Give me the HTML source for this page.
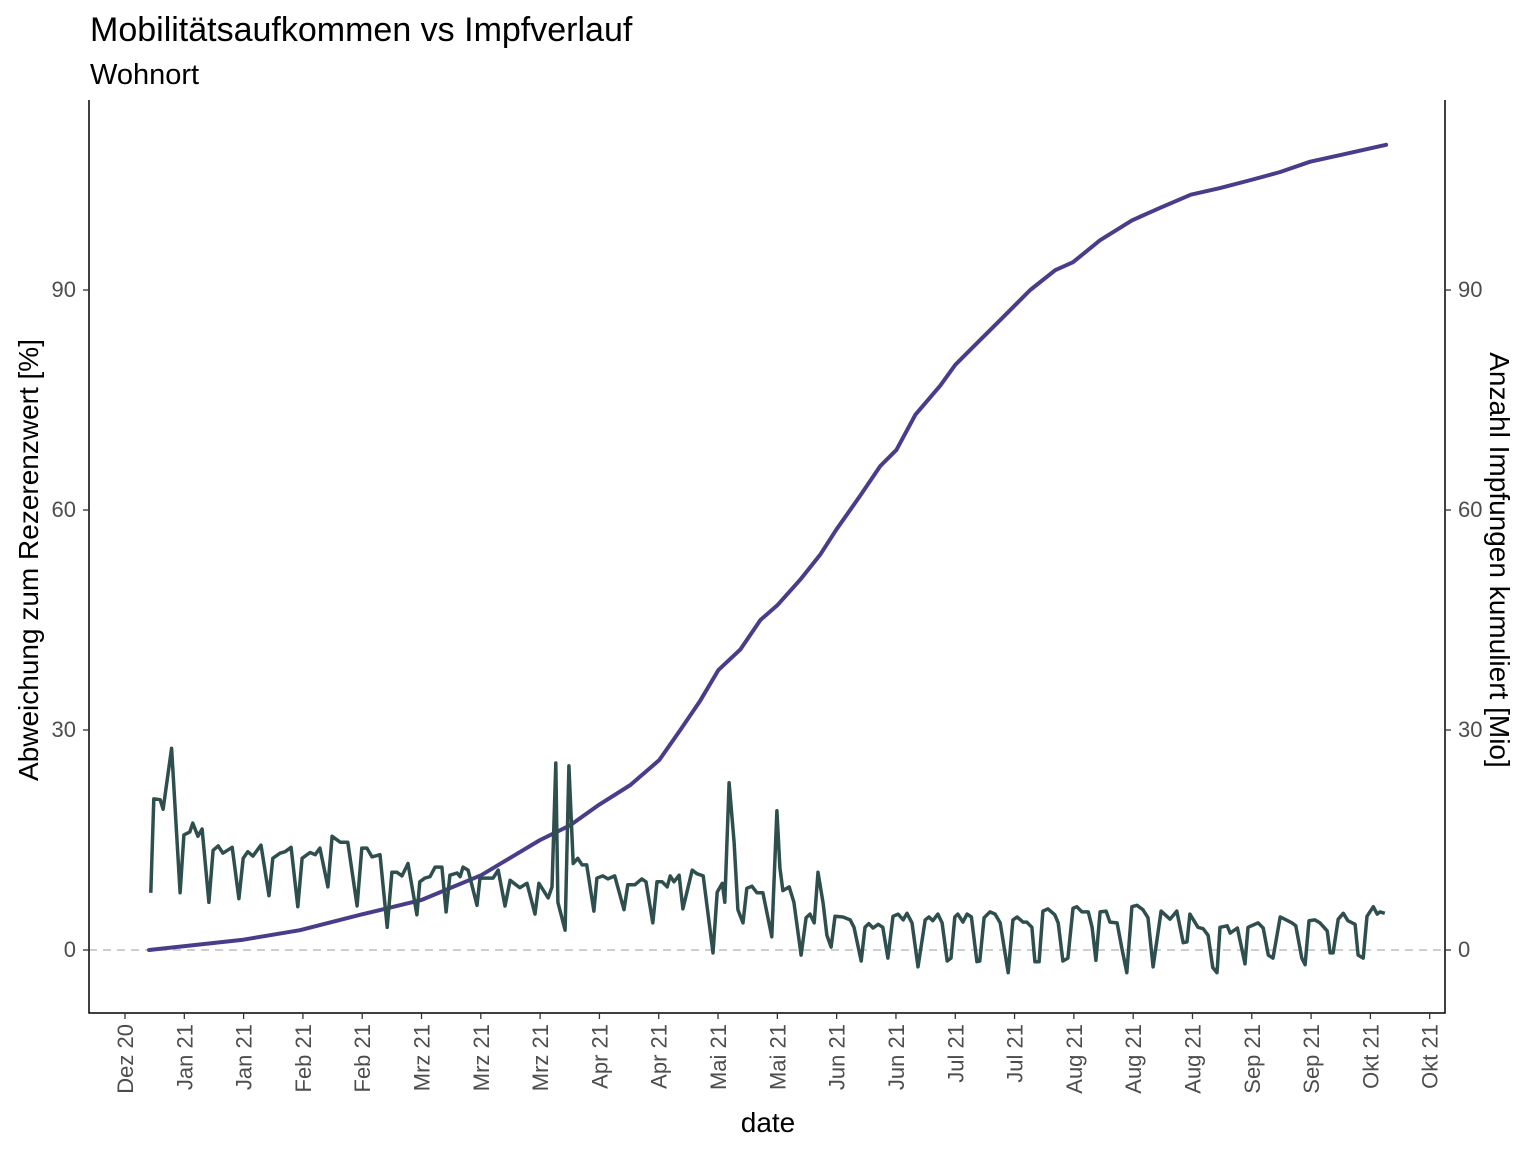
<!DOCTYPE html>
<html><head><meta charset="utf-8">
<style>
html,body{margin:0;padding:0;background:#fff;}
svg{display:block;font-family:"Liberation Sans",Arial,sans-serif;}
</style></head>
<body>
<svg id="chart" width="1536" height="1152" viewBox="0 0 1536 1152" xmlns="http://www.w3.org/2000/svg">
<text x="90" y="41" font-size="34" fill="#000">Mobilitätsaufkommen vs Impfverlauf</text>
<text x="90" y="84" font-size="29" fill="#000">Wohnort</text>
<g id="axes"></g>
<g id="marks"></g>
</svg>
<script>
// days since first x tick (Dez 20 tick)
const xTickLabels = ["Dez 20","Jan 21","Jan 21","Feb 21","Feb 21","Mrz 21","Mrz 21","Mrz 21","Apr 21","Apr 21","Mai 21","Mai 21","Jun 21","Jun 21","Jul 21","Jul 21","Aug 21","Aug 21","Aug 21","Sep 21","Sep 21","Okt 21","Okt 21"];
const xTickDays = [0,14,28,42,56,70,84,98,112,126,140,154,168,182,196,210,224,238,252,266,280,294,308];
const yTickValues = [0,30,60,90];
const mobDays = [6.1,6.8,8.3,9,11,13,13.9,15.3,16,17.2,18.2,19.8,20.8,22,23.1,25.3,26.9,27.9,29,30.2,32.1,34,34.9,36.6,37.8,39.2,40.8,41.8,43.7,44.9,46,47.9,48.9,50.8,52.6,54.8,55.9,57.1,58.3,60.2,61.9,63,64.2,65.4,66.8,68.9,69.6,70.8,72,73.2,74.8,75.8,76.7,78.4,79.1,79.8,81,83.1,83.8,85.5,86.9,88.1,89.7,90.9,93.2,94.9,96.8,97.7,99.9,100.8,101.7,102.2,103.9,104.8,105.8,106.9,107.9,109,110.7,111.4,112.8,114,115.6,117.8,118.7,120.4,122,123,124.6,125.6,126.8,128,128.7,129.6,130.8,131.7,133.9,135,136.5,138.8,139.8,141,141.6,142.6,143.8,144.7,145.9,146.8,148,149.2,150.6,152.7,153.9,154.6,155.3,156.8,157.9,159.6,160.8,161.7,162.7,163.6,164.8,165.7,166.7,167.6,169.5,171.2,172.1,173.8,174.7,175.6,176.6,177.8,178.9,180.1,181.3,182.5,183.7,184.6,185.8,187.2,188.9,189.8,190.7,191.9,192.9,194.1,195,195.9,196.6,197.8,198.8,199.8,201.1,201.8,202.8,204.2,205.4,206.6,208.5,209.6,210.6,212,212.9,214.1,214.8,215.8,216.7,217.9,219.5,220.3,221.4,222.6,223.8,224.7,225.9,227.4,228.3,229.2,230.2,231.6,232.5,234.2,235.4,236.5,237.7,238.9,240.3,241.5,242.7,244.6,246.7,248.3,249.8,250.7,251.4,253.3,254.5,255.7,256.8,257.8,258.5,260.2,260.9,262.6,264.4,265.1,266.3,267.5,268.7,269.9,271,272.7,273.8,275.5,276.4,277.8,278.6,279.5,280.9,282.1,283.8,284.5,285.2,286.4,287.6,288.7,290.4,291.1,292.3,293.2,294.7,295.6,296.3,297.4];
const mobValues = [7.8,20.6,20.5,19.2,27.5,7.8,15.7,16.1,17.3,15.5,16.5,6.5,13.6,14.2,13.2,14,7,12.5,13.4,12.8,14.3,7.4,12.5,13.2,13.4,14,5.9,12.5,13.3,13,13.9,8.6,15.5,14.7,14.7,6,13.9,13.9,12.7,13,3.1,10.6,10.6,10.1,11.8,4.8,9.3,9.8,10,11.3,11.3,5.2,10.2,10.5,10,11.3,10.9,6.1,9.8,9.8,9.8,10.9,6,9.5,8.5,9.1,4.9,9.1,7.1,8.6,25.5,6.5,2.7,25.1,11.8,12.5,11.6,11.6,5.3,9.8,10.1,9.7,10.1,5.5,8.9,8.9,9.7,9.3,3.7,9.3,9.3,8.6,10.1,9.3,10.2,5.6,10.9,10.4,10.1,-0.4,7.9,9.1,6.5,22.8,14.7,5.5,3.7,8.4,8.7,7.8,7.8,1.8,19,11.2,8.1,8.6,6.5,-0.7,4.4,4.9,3.7,10.6,6.4,2,0.4,4.6,4.5,4.1,3.1,-1.5,3.1,3.6,3,3.5,3.1,-1.1,4.6,4.9,4.1,5,3.7,-2.3,4.1,4.5,4,4.9,3.7,-1.5,-1.1,4.5,4.9,3.8,4.9,4.5,-1.6,-1.5,4.4,5.2,4.9,3.7,-3.1,4.1,4.5,3.8,3.8,3.1,-1.6,-1.6,5.3,5.6,4.8,3.7,-1.5,-1.1,5.7,5.9,5.2,5.2,3.1,-1.4,5.2,5.3,3.8,3.7,0,-3.1,5.9,6.1,5.5,4.4,-2.3,5.3,4.2,5.3,1,1.1,4.9,3.1,2.9,2,-2.4,-3.1,3.1,3.3,2.3,3,-1.9,3.1,3.4,3.7,3,-0.7,-1.1,4.5,4.2,3.7,3.3,-1.1,-2,4,4.1,3.7,2.6,-0.4,-0.4,4.2,5,4,3.5,-0.7,-1.1,4.6,5.9,4.9,5.2,5];
const vacDays = [5.7,27.9,41.3,55.5,69.9,84.1,98,105.1,111.9,119.3,126.1,131.1,135.8,140.1,145.3,150,154,159.4,164.1,167.9,173.6,178.3,182.1,186.6,192.5,196,201.9,206.6,213.7,219.6,223.8,230.2,237.7,244.3,251.6,258.5,265.8,272.7,279.8,286.9,297.7];
const vacValues = [0,1.4,2.7,4.8,6.8,10.2,15,17,19.8,22.5,25.9,30,34,38.2,41,45,47,50.5,53.9,57.3,62,66,68.2,73,77,79.8,83.2,85.9,90,92.7,93.8,96.8,99.5,101.2,103,103.9,105,106.1,107.5,108.4,109.8];

const NS="http://www.w3.org/2000/svg";
const PL=89, PR=1445, PT=100, PB=1013;
const X0=125, PXD=4.236;
function xScale(d){return X0+d*PXD;}
function yScale(v){return 950-v*7.333;}
function mk(tag,attrs,parent){const e=document.createElementNS(NS,tag);for(const k in attrs)e.setAttribute(k,attrs[k]);parent.appendChild(e);return e;}
const axes=document.getElementById('axes'), marks=document.getElementById('marks');

const zl=mk('line',{x1:PL,x2:PR,y1:yScale(0),y2:yScale(0),stroke:'#bebebe','stroke-width':1.5,'stroke-dasharray':'8,6'},axes);



const al=mk('path',{d:`M${PL},${PT}V${PB}H${PR}V${PT}`,fill:'none',stroke:'#000','stroke-width':1.5},axes);



yTickValues.forEach(v=>{
  const y=yScale(v);
  mk('line',{x1:PL-6,x2:PL,y1:y,y2:y,stroke:'#333','stroke-width':1.3},axes);
  mk('line',{x1:PR,x2:PR+6,y1:y,y2:y,stroke:'#333','stroke-width':1.3},axes);
  const t=mk('text',{x:76,y:y+7,'text-anchor':'end','font-size':22,fill:'#4d4d4d'},axes);
  t.textContent=v;
  
  
  const t2=mk('text',{x:1458,y:y+7,'font-size':22,fill:'#4d4d4d'},axes);
  t2.textContent=v;
  
  
});
xTickDays.forEach((d,i)=>{
  const x=xScale(d);
  mk('line',{x1:x,x2:x,y1:PB,y2:PB+6,stroke:'#333','stroke-width':1.3},axes);
  const t=mk('text',{x:0,y:0,'text-anchor':'end','font-size':22,fill:'#4d4d4d',transform:`translate(${x+8},1024) rotate(-90)`},axes);
  t.textContent=xTickLabels[i];
  
  
});
const xt=mk('text',{x:768,y:1132,'text-anchor':'middle','font-size':28,fill:'#000'},axes);
xt.textContent='date';


const ylt=mk('text',{x:0,y:0,'text-anchor':'middle','font-size':28,fill:'#000',transform:'translate(38,560) rotate(-90)'},axes);
ylt.textContent='Abweichung zum Rezerenzwert [%]';


const yrt=mk('text',{x:0,y:0,'text-anchor':'middle','font-size':28,fill:'#000',transform:'translate(1490,560) rotate(90)'},axes);
yrt.textContent='Anzahl Impfungen kumuliert [Mio]';



function pathFrom(days,vals){return days.map((d,i)=>(i?'L':'M')+xScale(d).toFixed(1)+','+yScale(vals[i]).toFixed(1)).join('');}
const vac=mk('path',{d:pathFrom(vacDays,vacValues),fill:'none',stroke:'#483d8b','stroke-width':4,'stroke-linejoin':'round','stroke-linecap':'round'},marks);


const mob=mk('path',{d:pathFrom(mobDays,mobValues),fill:'none',stroke:'#2f4f4f','stroke-width':3.5,'stroke-linejoin':'round'},marks);


</script>
</body></html>
